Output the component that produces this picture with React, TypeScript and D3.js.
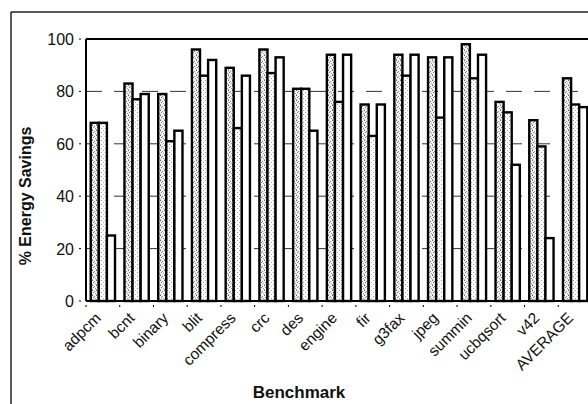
import React from 'react';
import * as d3 from 'd3';

const benchmarks = ['adpcm', 'bcnt', 'binary', 'blit', 'compress', 'crc', 'des', 'engine', 'fir', 'g3fax', 'jpeg', 'summin', 'ucbqsort', 'v42', 'AVERAGE'];
const seriesA = [68, 83, 79, 96, 89, 96, 81, 94, 75, 94, 93, 98, 76, 69, 85];
const seriesB = [68, 77, 61, 86, 66, 87, 81, 76, 63, 86, 70, 85, 72, 59, 75];
const seriesC = [25, 79, 65, 92, 86, 93, 65, 94, 75, 94, 93, 94, 52, 24, 74];
const yTicks = [0, 20, 40, 60, 80, 100];

const W = 588, H = 404;
const left = 86, top = 39, bottom = 301, right = 592;
const font = 'Arial, "Liberation Sans", sans-serif';

const App = () => {
    const x = d3.scaleBand()
        .domain(benchmarks)
        .range([left, right])
        .paddingInner(0.28)
        .paddingOuter(0.14);

    const inner = d3.scaleBand()
        .domain(['a', 'b', 'c'])
        .range([0, x.bandwidth()]);

    const y = d3.scaleLinear()
        .domain([0, 100])
        .range([bottom, top]);

    const series = [
        { key: 'a', values: seriesA, fill: 'url(#dotsDark)' },
        { key: 'b', values: seriesB, fill: 'url(#dotsLight)' },
        { key: 'c', values: seriesC, fill: '#fff' },
    ];

    return (
        <svg width={W} height={H} style={{ position: 'absolute', left: 0, top: 0, background: '#fff' }}>
            <defs>
                <pattern id="dotsDark" width="4" height="5" patternUnits="userSpaceOnUse">
                    <rect width="4" height="5" fill="#f4f4f4" />
                    <rect x="0" y="0" width="1" height="1" fill="#666" />
                    <rect x="2" y="1" width="1" height="1" fill="#888" />
                    <rect x="1" y="2" width="1" height="1" fill="#777" />
                    <rect x="3" y="3" width="1" height="1" fill="#999" />
                    <rect x="0" y="4" width="1" height="1" fill="#aaa" />
                </pattern>
                <pattern id="dotsLight" width="4" height="4" patternUnits="userSpaceOnUse">
                    <rect width="4" height="4" fill="#fff" />
                    <rect x="1" y="0" width="1" height="1" fill="#999" />
                    <rect x="3" y="2" width="1" height="1" fill="#aaa" />
                </pattern>
            </defs>

            {/* outer frame */}
            <line x1={11} x2={W} y1={12} y2={12} stroke="#222" strokeWidth={1.5} />
            <line x1={11} x2={11} y1={12} y2={H} stroke="#222" strokeWidth={1.5} />

            {/* gridlines */}
            {yTicks.filter(t => t > 0 && t < 100).map(t => (
                <line key={t} x1={left} x2={W} y1={y(t)} y2={y(t)}
                    stroke="#333" strokeWidth={1} strokeDasharray="16,12" />
            ))}

            {/* bars */}
            {series.map(s => (
                <g key={s.key}>
                    {benchmarks.map((b, i) => (
                        <rect key={b}
                            x={(x(b) ?? 0) + (inner(s.key) ?? 0)}
                            y={y(s.values[i])}
                            width={inner.bandwidth()}
                            height={bottom - y(s.values[i])}
                            fill={s.fill}
                            stroke="#000"
                            strokeWidth={2.4} />
                    ))}
                </g>
            ))}

            {/* plot borders */}
            <line x1={left} x2={W} y1={top} y2={top} stroke="#000" strokeWidth={2} />
            <line x1={left} x2={left} y1={top} y2={bottom} stroke="#000" strokeWidth={2} />
            <line x1={left} x2={W} y1={bottom} y2={bottom} stroke="#000" strokeWidth={2} />

            {/* y axis */}
            {yTicks.map(t => (
                <g key={t}>
                    <line x1={79} x2={81} y1={y(t)} y2={y(t)} stroke="#000" strokeWidth={1} />
                    <text x={74} y={y(t) + 6} textAnchor="end" fontFamily={font} fontSize={16} fill="#111">{t}</text>
                </g>
            ))}
            <text transform={`translate(31, 196) rotate(-90)`} textAnchor="middle"
                fontFamily={font} fontSize={16} fontWeight="bold" fill="#111">% Energy Savings</text>

            {/* x axis */}
            {benchmarks.map(b => {
                const cx = (x(b) ?? 0) + x.bandwidth() / 2;
                return (
                    <g key={b}>
                        <line x1={cx - x.step() / 2} x2={cx - x.step() / 2} y1={bottom + 4} y2={bottom + 6} stroke="#000" />
                        <text transform={`translate(${cx - 1}, 319) rotate(-45)`} textAnchor="end"
                            fontFamily={font} fontSize={15.5} fill="#111">{b}</text>
                    </g>
                );
            })}
            <text x={299} y={398} textAnchor="middle" fontFamily={font} fontSize={17} fontWeight="bold" fill="#111">Benchmark</text>
        </svg>
    );
};

export default App;
